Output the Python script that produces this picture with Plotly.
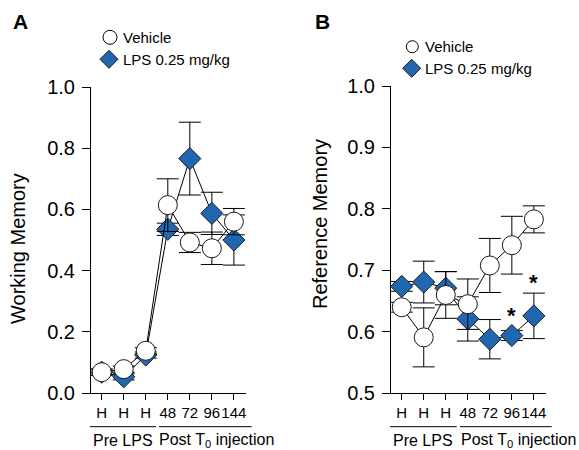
import plotly.graph_objects as go

# ---------------- data ----------------
tick_labels = ["H", "H", "H", "48", "72", "96", "144"]
x_idx = list(range(len(tick_labels)))

veh_wm = [0.068, 0.078, 0.138, 0.614, 0.492, 0.473, 0.560]
veh_wm_err = [0.010, 0.010, 0.010, 0.086, 0.033, 0.053, 0.043]
lps_wm = [0.068, 0.053, 0.124, 0.535, 0.766, 0.587, 0.500]
lps_wm_err = [0.010, 0.010, 0.010, 0.020, 0.119, 0.069, 0.082]

veh_rm = [0.640, 0.591, 0.660, 0.645, 0.708, 0.741, 0.783]
veh_rm_err = [0.008, 0.048, 0.038, 0.041, 0.044, 0.047, 0.022]
lps_rm = [0.674, 0.681, 0.671, 0.621, 0.588, 0.594, 0.626]
lps_rm_err = [0.008, 0.034, 0.027, 0.036, 0.032, 0.008, 0.037]

sig_idx = [5, 6]
sig_y = [0.633, 0.687]

series_names = ["Vehicle", "LPS 0.25 mg/kg"]

# ---------------- styling ----------------
W, H = 579, 450
BLUE = "#2166B0"
FONT = "Liberation Sans, Arial, sans-serif"


def px(x):
    return x / W


def py(y):
    return 1 - y / H


fig = go.Figure()


def add_series(xa, ya, lps, lps_err, veh, veh_err):
    fig.add_trace(go.Scatter(
        x=x_idx, y=lps, xaxis=xa, yaxis=ya, mode="lines+markers",
        name=series_names[1], showlegend=False,
        line=dict(color="black", width=1),
        marker=dict(symbol="diamond", size=17, color=BLUE,
                    line=dict(color="#1a1a1a", width=1)),
        error_y=dict(type="data", array=lps_err, color="black",
                     thickness=1, width=11),
    ))
    fig.add_trace(go.Scatter(
        x=x_idx, y=veh, xaxis=xa, yaxis=ya, mode="lines+markers",
        name=series_names[0], showlegend=False,
        line=dict(color="black", width=1),
        marker=dict(symbol="circle", size=19, color="white",
                    line=dict(color="#1a1a1a", width=1)),
        error_y=dict(type="data", array=veh_err, color="black",
                     thickness=1, width=11),
    ))


add_series("x", "y", lps_wm, lps_wm_err, veh_wm, veh_wm_err)
add_series("x2", "y2", lps_rm, lps_rm_err, veh_rm, veh_rm_err)

xcommon = dict(
    range=[-0.486, 6.55], tickmode="array", tickvals=x_idx,
    ticktext=tick_labels, ticks="outside", ticklen=6, tickwidth=1,
    tickcolor="black", showline=True, linecolor="black", linewidth=1,
    showgrid=False, zeroline=False, fixedrange=True, tickangle=0,
    automargin=False,
    tickfont=dict(family=FONT, size=15, color="black"),
)
ycommon = dict(
    ticks="outside", ticklen=8, tickwidth=1, tickcolor="black",
    showline=True, linecolor="black", linewidth=1, showgrid=False,
    zeroline=False, tickformat=".1f", automargin=False, fixedrange=True,
    ticklabelstandoff=3,
    tickfont=dict(family=FONT, size=20, color="black"),
)

fig.update_layout(
    width=W, height=H, margin=dict(l=0, r=0, t=0, b=0, pad=0, autoexpand=False),
    paper_bgcolor="white", plot_bgcolor="white", showlegend=False,
    xaxis=dict(domain=[px(91), px(246)], anchor="y", **xcommon),
    yaxis=dict(domain=[py(393), py(87)], anchor="x", range=[0, 1.0],
               tickvals=[0, 0.2, 0.4, 0.6, 0.8, 1.0], **ycommon),
    xaxis2=dict(domain=[px(391), px(546)], anchor="y2", **xcommon),
    yaxis2=dict(domain=[py(393.3), py(86)], anchor="x2", range=[0.5, 1.0],
                tickvals=[0.5, 0.6, 0.7, 0.8, 0.9, 1.0], **ycommon),
)

ann = []
shapes = []


def text(x, y, s, size, angle=0, xanchor="center", bold=False):
    ann.append(dict(x=px(x), y=py(y), xref="paper", yref="paper",
                    text=f"<b>{s}</b>" if bold else s, textangle=angle,
                    xanchor=xanchor, yanchor="middle", showarrow=False,
                    font=dict(family=FONT, size=size, color="black")))


# panel letters
text(20, 22, "A", 21, bold=True)
text(322, 22, "B", 21, bold=True)

# y titles
text(18, 249, "Working Memory", 20, angle=-90)
text(320, 224, "Reference Memory", 20, angle=-90)

# group brackets & labels
for (x0, x1, xc, label) in [(90, 156, 123, "Pre LPS"), (159, 251.7, 216.5, "Post T<sub>0</sub> injection"),
                            (390, 456.7, 423, "Pre LPS"), (460, 551.7, 518, "Post T<sub>0</sub> injection")]:
    shapes.append(dict(type="line", xref="paper", yref="paper", x0=px(x0), x1=px(x1),
                       y0=py(426.7), y1=py(426.7), line=dict(color="black", width=1)))
    text(xc, 440, label, 16)


# legends (glyphs + text)
def legend(cx_c, cy_c, rc, cx_d, cy_d, rd, tx):
    shapes.append(dict(type="circle", xref="paper", yref="paper",
                       x0=px(cx_c - rc), x1=px(cx_c + rc), y0=py(cy_c + rc), y1=py(cy_c - rc),
                       fillcolor="white", line=dict(color="black", width=1)))
    path = "M {},{} L {},{} L {},{} L {},{} Z".format(
        px(cx_d - rd), py(cy_d), px(cx_d), py(cy_d - rd),
        px(cx_d + rd), py(cy_d), px(cx_d), py(cy_d + rd))
    shapes.append(dict(type="path", xref="paper", yref="paper", path=path,
                       fillcolor=BLUE, line=dict(color="#1a1a1a", width=1)))
    text(tx, cy_c, series_names[0], 15, xanchor="left")
    text(tx, cy_d, series_names[1], 15, xanchor="left")


legend(110, 37.3, 7, 109, 59.3, 9, 121)
legend(412.3, 46.7, 6, 411.7, 68.3, 9, 423)

# significance asterisks
for i, yv in zip(sig_idx, sig_y):
    ann.append(dict(x=i, y=yv, xref="x2", yref="y2", text="<b>*</b>", showarrow=False,
                    xanchor="center", yanchor="middle", yshift=-4,
                    font=dict(family=FONT, size=22, color="black")))

fig.update_layout(annotations=ann, shapes=shapes)
fig.write_html("out.html", config={"displayModeBar": False},
               post_script="document.body.style.margin='0';")
